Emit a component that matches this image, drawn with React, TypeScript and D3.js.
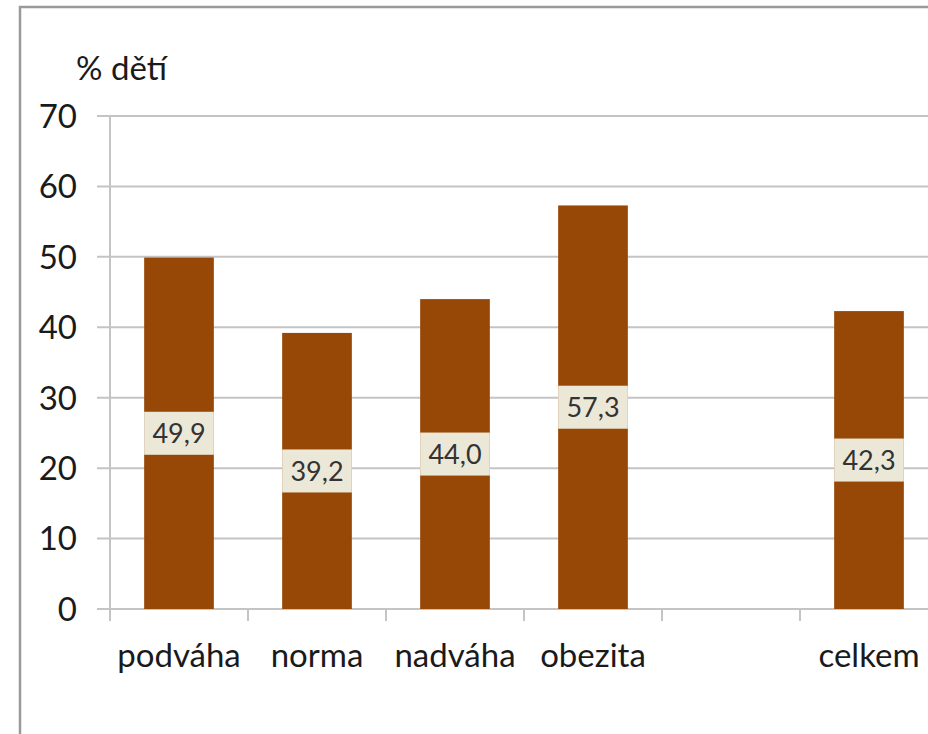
import React from "react";
import * as d3 from "d3";

// Share of children (%) by weight category
const categories = ["podváha", "norma", "nadváha", "obezita", "", "celkem"];
const values: (number | null)[] = [49.9, 39.2, 44.0, 57.3, null, 42.3];
const yTicks = [0, 10, 20, 30, 40, 50, 60, 70];
const yTitle = "% dětí";

const W = 928;
const H = 734;
const FONT = "Lato, 'Liberation Sans', sans-serif";
const BAR = "#974806";
const LABEL_BG = "#ECE8D8";
const GRID = "#c4c4c4";
const INK = "#1a1a1a";

export default function App() {
  const x = d3
    .scaleBand<string>()
    .domain(categories.map((c, i) => `${i}`))
    .range([110, 938])
    .padding(0);
  const y = d3.scaleLinear().domain([0, 70]).range([609, 116]);
  const barW = x.bandwidth() * 0.505;
  const fmt = (v: number) => v.toFixed(1).replace(".", ",");

  return (
    <svg
      width={W}
      height={H}
      style={{ position: "absolute", left: 0, top: 0, background: "#fff" }}
      fontFamily={FONT}
    >
      {/* chart frame */}
      <rect x={20} y={7} width={1000} height={1000} fill="#fff" stroke="#9a9a9a" strokeWidth={2.5} />

      {/* title of value axis */}
      <text x={76} y={80} fontSize={33} fill={INK}>
        {yTitle}
      </text>

      {/* gridlines with left tick marks */}
      {yTicks.map((t) => (
        <g key={t}>
          <line x1={97} x2={W} y1={y(t)} y2={y(t)} stroke={GRID} strokeWidth={2} />
          <text x={77} y={y(t)} dy="0.36em" textAnchor="end" fontSize={33} fill={INK}>
            {t}
          </text>
        </g>
      ))}

      {/* value axis line */}
      <line x1={110} x2={110} y1={y(70)} y2={y(0) + 12} stroke={GRID} strokeWidth={2} />

      {/* category tick marks */}
      {categories.map((c, i) => {
        const bx = x(`${i}`)!;
        return <line key={`t${i}`} x1={bx} x2={bx} y1={y(0)} y2={y(0) + 12} stroke={GRID} strokeWidth={2} />;
      })}

      {/* bars */}
      {categories.map((c, i) => {
        const v = values[i];
        if (v == null) return null;
        const cx = x(`${i}`)! + x.bandwidth() / 2;
        return (
          <rect
            key={`b${i}`}
            x={cx - barW / 2}
            y={y(v)}
            width={barW}
            height={y(0) - y(v)}
            fill={BAR}
          />
        );
      })}

      {/* data labels at bar centres */}
      {categories.map((c, i) => {
        const v = values[i];
        if (v == null) return null;
        const cx = x(`${i}`)! + x.bandwidth() / 2;
        const cy = y(v / 2);
        return (
          <g key={`l${i}`}>
            <rect x={cx - barW / 2} y={cy - 21.5} width={barW} height={43} fill={LABEL_BG} />
            <text x={cx} y={cy} dy="0.36em" textAnchor="middle" fontSize={27} fill="#333">
              {fmt(v)}
            </text>
          </g>
        );
      })}

      {/* category labels */}
      {categories.map((c, i) => (
        <text
          key={`c${i}`}
          x={x(`${i}`)! + x.bandwidth() / 2}
          y={667}
          textAnchor="middle"
          fontSize={33}
          fill={INK}
        >
          {c}
        </text>
      ))}
    </svg>
  );
}
